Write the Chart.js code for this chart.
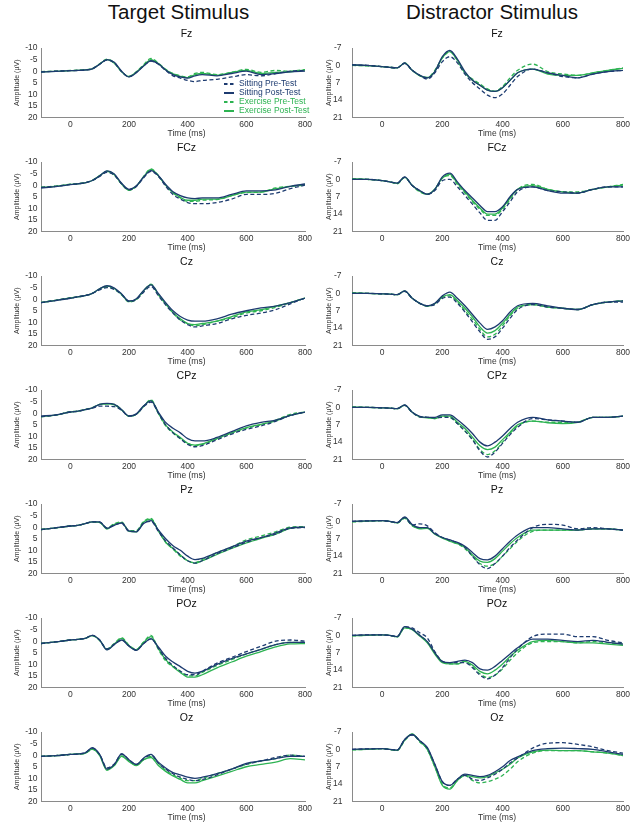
<!DOCTYPE html>
<html>
<head>
<meta charset="utf-8">
<script src="https://cdn.jsdelivr.net/npm/chart.js@4.4.1/dist/chart.umd.min.js"></script>
<style>
  body { margin: 0; background: #fff; width: 639px; height: 836px; position: relative; overflow: hidden;
         font-family: "Liberation Sans", Arial, sans-serif; }
  .head { position: absolute; top: 0; font-size: 20.5px; line-height: 24px; color: #111;
          white-space: nowrap; transform: translateX(-50%); }
  canvas { position: absolute; }
</style>
</head>
<body>
<div class="head" style="left:178.5px">Target Stimulus</div>
<div class="head" style="left:492px">Distractor Stimulus</div>
<script>
const FONT = '"Liberation Sans", Arial, sans-serif';

const electrodes = ['Fz', 'FCz', 'Cz', 'CPz', 'Pz', 'POz', 'Oz'];
const conditions = ['Sitting Pre-Test', 'Sitting Post-Test', 'Exercise Pre-Test', 'Exercise Post-Test'];
const times = [-100, -50, 0, 25, 50, 75, 100, 125, 150, 175, 200, 225, 250, 275, 300, 325, 350, 375, 400, 425, 450, 500, 550, 600, 650, 700, 750, 800];
const timeTicks = [0, 200, 400, 600, 800];
const targetAmpTicks = [-10, -5, 0, 5, 10, 15, 20];
const distractorAmpTicks = [-7, 0, 7, 14, 21];

// amplitude (uV) per electrode row, sampled at `times`
const targetSittingPre = [
  [0.3,0,-0.2,-0.3,-0.5,-1,-3,-4.8,-3.5,0.3,2.4,0.5,-2.3,-4.3,-3,-0.3,2,3,4,4.5,4,3.5,2.5,1.5,2,1,0,-0.3],
  [1,0.5,-0.3,-0.6,-1,-2,-3.8,-5.5,-4.3,-0.5,2,0.6,-3.2,-6,-3.8,0.5,4,6,7.5,8,8,7.5,6,4,4,3.5,1.5,0],
  [1.5,0.5,-0.5,-1,-1.5,-2.5,-4,-5,-4.2,-2,1,0.2,-3,-5.5,-1.5,2.5,6,9,11,12,11.5,10.5,8.5,7,6,4.5,2,-0.5],
  [1.5,0.8,-0.5,-0.8,-1.5,-2.2,-3,-3,-2.8,-1.2,1.3,0.5,-2.8,-4.8,0,5,8.5,11,13.5,14.5,14,11.5,9,7,5.5,3.5,1,-0.5],
  [1,0.3,-0.5,-0.8,-1.5,-2.3,-2.2,0.3,-1,-1.8,1.8,1.8,-1.8,-2.5,1.8,6,9,12,14.5,15.5,14.5,11.5,9,6.5,4.5,3,0.5,0.2],
  [1,0.3,-0.5,-0.8,-1.2,-2.5,-0.5,3.3,1.3,-0.5,2,3.8,1,-1,3,7.5,10.5,13,14.5,14.5,13,9.5,7,4.5,2.2,0,-0.5,0],
  [0.5,0.2,-0.3,-0.5,-1,-3,-0.3,5.5,3.8,-0.5,2,4,1.5,0,3.5,6,8,9.5,10.5,11,10.5,8.5,6,4,2.5,1,0,0.5]
];
const targetSittingPost = [
  [0.4,0.1,-0.2,-0.3,-0.5,-1,-3,-5,-3.8,0,2.5,0.7,-2.2,-4.5,-3.2,-0.5,1.5,2.5,3,2,1.5,2,1,0,1.5,1,0.3,0],
  [1.2,0.6,-0.2,-0.6,-1,-2,-4,-6.2,-4.8,-0.8,1.8,0.3,-3.5,-6.3,-4.2,-0.3,2.8,4.5,5.5,5.8,5.5,5.5,4,2.5,2.5,2,0.5,-0.5],
  [1.5,0.6,-0.4,-1,-1.5,-2.5,-4.5,-5.8,-4.8,-2.2,0.8,-0.2,-3.8,-6.2,-2.5,1.5,5,7.5,9,9.5,9.5,8.5,6.5,5,3.8,3,1.5,-0.5],
  [1.3,0.7,-0.5,-0.9,-1.5,-2.3,-3.8,-4.2,-3.8,-1.5,1.2,0.3,-3.2,-5.3,-0.5,4,6.5,8.5,11,12,12,10.5,8,5.5,4,3,1,-0.5],
  [1.1,0.3,-0.5,-0.8,-1.5,-2.3,-2.3,0.5,-0.8,-1.8,1.6,2,-1.6,-2.8,1.2,5,8,10,12.5,14,13.5,11,8.5,6,4.5,2.5,0.3,0],
  [1,0.3,-0.5,-0.8,-1.2,-2.5,-0.5,3.8,1.5,-0.5,2.2,4,1,-1,2.5,6.5,9,11,13,13.8,13,10,7.5,5.5,3.5,1.5,0.5,0.5],
  [0.5,0.2,-0.3,-0.5,-1,-3.2,-0.3,6,4,-0.5,2,4,1.2,-0.3,3,5.5,7.5,8.5,9.5,10,9.5,8,6,3.5,2.5,1.5,0.5,0.5]
];
const targetExercisePre = [
  [0.2,0,-0.3,-0.4,-0.6,-1.1,-3.2,-5.2,-3.6,0.2,2.3,0.3,-2.8,-5.5,-3.5,-0.8,1,2,2.5,1,0.5,1.5,0.5,-0.8,0.5,-0.3,0,-0.7],
  [0.9,0.4,-0.4,-0.7,-1.1,-2.1,-4,-5.8,-4.4,-0.4,2.2,0.5,-3.8,-7,-4.2,0,3.3,5.5,7,7,6.5,6.2,4.5,3.2,3,1.2,0.5,0],
  [1.4,0.5,-0.5,-1,-1.5,-2.5,-4.3,-5.3,-4.3,-1.8,1.2,0.2,-3.5,-6.5,-2,2,6,9,10.5,11.5,11,9.5,8,6,5,3.5,1.5,-0.5],
  [1.6,0.8,-0.6,-0.9,-1.6,-2.4,-3.8,-4,-3.8,-1.5,1.4,0.5,-3,-5.8,0,5.5,8.5,11,13,14,13.5,11,8.5,6.5,5,3,0.5,-0.5],
  [1,0.3,-0.5,-0.8,-1.5,-2.2,-2,0.3,-1.5,-2.3,1.5,1.5,-2.5,-3.8,1.5,6.5,9.5,12.5,14.5,15.3,14,11,8.5,5.5,3.8,2,0,-0.3],
  [1,0.3,-0.5,-0.8,-1.2,-2.3,-0.3,3.3,1,-1.5,1.8,3.5,0.3,-2.5,3.5,8.5,11,13,15,15,13.5,10.5,8,5.5,3.5,1.5,0.5,0.5],
  [0.5,0.2,-0.3,-0.5,-0.8,-2.5,0,6,4.3,0.3,2.5,4.3,2,0.5,3.5,6.5,8.5,10,11,11,10,8,6,4,2.5,1.5,0,0.5]
];
const targetExercisePost = [
  [0.3,0.1,-0.2,-0.3,-0.6,-1,-3.1,-5,-3.4,0.3,2.3,0.4,-2.5,-5,-3.3,-0.6,1.2,2.2,2.8,1.5,1,1.7,0.5,-0.3,1,0.5,0.3,-0.5],
  [1,0.5,-0.3,-0.6,-1,-2,-4.1,-6,-4.5,-0.5,2.1,0.4,-3.6,-6.8,-4,0,3.2,5.3,6.5,6.5,6,6,4.5,3,3,1.5,0.5,-0.3],
  [1.5,0.5,-0.5,-1,-1.5,-2.5,-4.5,-5.6,-4.6,-2,1,0,-3.6,-6.3,-2,2,5.8,8.5,10.5,11,10.5,9.5,7.5,5.5,4.5,3,1.5,-0.5],
  [1.5,0.8,-0.5,-0.8,-1.5,-2.3,-3.8,-4,-3.6,-1.4,1.3,0.5,-3,-5.5,0,5.2,8.2,10.5,13,13.8,13.3,11,8.5,6.2,4.8,3.3,1,-0.5],
  [1,0.3,-0.5,-0.8,-1.5,-2.3,-2.1,0.8,-1.2,-2,1.8,2,-2.2,-3.5,1.5,6.5,9.3,12,14.5,15.5,14.5,11.8,9.2,6.8,4.8,3,0.5,0],
  [1,0.3,-0.5,-0.8,-1.2,-2.4,-0.4,3.6,1.2,-1.2,2,3.8,0.5,-2,3.2,8,11,13.5,15.5,15.5,14.5,11.5,9,6.5,4.5,2.5,1.2,1],
  [0.5,0.2,-0.3,-0.5,-0.8,-2.6,0.2,6.5,4.5,0.5,2.8,4.5,2,1,4.5,7,9,10.5,12,12,11,9,7,5,4,3,1.5,2]
];

const distractorSittingPre = [
  [-0.2,0,0.5,0.8,1,-1,2,4,5.5,3,-1.5,-3.5,-1,3.5,7,9.5,12,13,11.5,8,4.5,1.5,3,4.5,5,3.5,2.5,2],
  [0,0,0.5,1,1.5,-0.8,2.5,4.5,6,4.5,0.5,0,3,6.5,10,13.5,16.5,16.5,13,9,5,3,4.5,5,5.5,4,3,3],
  [0,0,0.2,0.3,0.5,-0.8,2,4,5,4.5,2,1.5,4,7.5,11.5,15.5,18.5,17.5,14,10,6.5,4.5,5.5,6,6.5,4.5,3.5,3.5],
  [0,0,0.2,0.3,0.5,-0.8,2,3.8,4,4.2,4,4,6.5,9.5,13,17.5,20,18,14.5,11,8,4.5,5,5.5,6,4,4,3.5],
  [0,-0.2,-0.3,0,0.5,-1.5,1.5,1,1.8,4.5,6.5,7.5,8.5,10.5,14,17.5,19,17,14,10.5,7.5,2.5,1.2,1.5,3,2.5,3,3.5],
  [0,-0.2,-0.2,0,0.5,-3.5,-3,-1,1,6.5,10.5,11,11,11,13,16,17.5,16,13,9,5.5,0.5,-0.5,-0.5,0.5,0.5,2,3],
  [0,-0.2,-0.3,0,0.3,-4,-5.8,-3.5,-0.5,6,13,14.5,12,10.5,12,12.5,11.5,10,8,5.5,3.5,-0.5,-2.5,-2.7,-2,-1,0.5,1.5]
];
const distractorSittingPost = [
  [-0.2,0,0.5,0.8,1,-0.8,2,4,5,2.5,-3.5,-6,-2.5,2.5,6,8,10,10.5,9,6,3,1.5,3,4,5,3.5,2.5,2],
  [0,0,0.5,1,1.5,-1,2.5,4.5,6,4,-1,-2.5,1,4.5,7.5,10.5,13,13,11,7,4,3,4.5,5.5,5.5,4,3,3],
  [0,0,0.2,0.3,0.5,-1,2,4,5,4,1,-0.5,2,5,8.5,12,14.5,13.5,11,7.5,5,4,5,6,6.5,4.5,3.5,3],
  [0,0,0.2,0.3,0.5,-1,2,3.6,4,4,3,3,5,7.5,10.5,14,15.5,14,11.5,8.5,6,4,5,5.5,6,4,4,3.5],
  [0,-0.2,-0.3,0,0.5,-1.8,1.3,2.5,2.5,5,6.5,7.5,8.5,10,12.5,15,15.5,14,11,8,5.5,2.5,2.5,3,3.5,3,3,3.5],
  [0,-0.2,-0.2,0,0.5,-3.5,-2.5,0,2.5,7,10.5,11,10.5,10,11,13.5,14,12.5,10,7.5,5,1.5,1.5,2,2.5,2,2.8,3.5],
  [0,-0.2,-0.3,0,0.3,-4,-6,-3.5,-0.8,6,13,14.5,12,10,10.5,11,10.5,9,7,4.5,3,0.5,-0.3,-0.5,-0.3,0,1,2]
];
const distractorExercisePre = [
  [0,0.2,0.5,0.8,1,-0.8,2,4,4.8,2,-3,-5.5,-2,3,5.5,7.5,9.5,10.5,8.5,5,2,-0.5,2.5,3.5,4,3,2,1],
  [-0.3,0,0.5,1,1.8,-0.8,2.5,5,6,4,-0.5,-1.5,2,5.5,9,12,14.5,14.5,12,8,4,2,4,5,5,4,3,2],
  [-0.3,0,0.2,0.3,0.6,-0.8,2,4,5,4.2,1.5,1,3.5,7,10.5,14.5,17.5,16.5,13,9,6,4.5,5.5,6,6.5,4.5,3.5,3],
  [-0.2,0,0.2,0.3,0.6,-0.8,2,3.8,4,4.5,3.5,4,6.5,9.5,13,17,19,17.5,14,10.5,7.5,5.5,6,6,6,4,4,3.5],
  [0.2,0,-0.3,0,0.7,-1.2,1.8,2.8,2.8,5,6.5,8,9,11,14,17,18,17,14,11,8,4,3.5,3.5,3.5,3,3,3.5],
  [0.2,0,-0.2,0,0.7,-3,-2.5,0,2.5,7,10.5,11.5,11.5,10.5,12.5,15.5,17,16,13.5,10,7,3,2.5,2.5,3,2.5,3,3.5],
  [0.2,0,-0.3,0,0.5,-3.5,-6,-3,0,7,14,15.5,12.5,10.5,12.5,13.5,13,12,10.5,8,5,1.5,0.5,0.5,0.5,1,1.5,2.5]
];
const distractorExercisePost = [
  [-0.1,0.1,0.5,0.8,1,-1,2,4.2,5,2.5,-3,-5.5,-2,3,6,8,10,10.5,9,6,3,1.5,3.5,4,4,3,2,1.2],
  [-0.2,0,0.5,1,1.6,-0.8,2.5,4.8,6,4,-0.5,-2,1.5,5,8.5,11.5,14,14,11.5,7.5,4,2.5,4,5,5.5,4,3,2.3],
  [-0.2,0,0.2,0.3,0.5,-1,2,4,5.2,4.2,1.5,0.5,3,6,9.5,13.5,16,15,12,8.5,5.5,4.5,5.5,6,6.5,4.5,3.5,3],
  [-0.1,0,0.2,0.3,0.5,-0.9,2,3.8,4.2,4.5,3.5,3.5,6,8.5,12,15.5,17,16,13,10,7,5.5,6.2,6.5,6,4,4,3.5],
  [0.1,-0.1,-0.3,0,0.6,-1.5,1.6,3,2.8,5.2,6.8,8,9,10.5,13.5,16,16.5,15,12,9,6.5,3.5,3.5,3.5,3.5,3,3,3.5],
  [0.1,0,-0.2,0,0.6,-3,-2.3,0.3,3,7.5,11,11.5,11.5,10.5,12,14.5,15.5,14,11.5,8.5,6,2.5,2,2.5,3,3,3.5,4],
  [0.1,0,-0.3,0,0.4,-3.8,-6.2,-3.3,0,7,14.5,16,12.5,10.5,11,11.5,11,9.5,8,6,3.5,1,0.3,0.5,0.5,1,1.5,2.5]
];

const lineColors = ['#1d3b70', '#1d3b70', '#2db352', '#2db352'];
const lineDashes = [[4, 2.5], [], [4, 2.5], []];

// legend drawn inside the plot, bottom right (only on the first panel)
const cornerLegend = {
  id: 'cornerLegend',
  afterDatasetsDraw(chart, args, opts) {
    if (!opts.show) return;
    const { ctx, chartArea } = chart;
    ctx.save();
    ctx.font = '8.5px ' + FONT;
    ctx.textBaseline = 'middle';
    const n = chart.data.datasets.length;
    chart.data.datasets.forEach((ds, k) => {
      const y = chartArea.bottom - 6.5 - (n - 1 - k) * 9;
      const x = chartArea.right - 81;
      ctx.strokeStyle = ds.borderColor;
      ctx.lineWidth = 2;
      ctx.setLineDash(ds.borderDash.length ? [3.5, 2.5] : []);
      ctx.beginPath();
      ctx.moveTo(x, y);
      ctx.lineTo(x + 10, y);
      ctx.stroke();
      ctx.setLineDash([]);
      ctx.fillStyle = ds.borderColor;
      ctx.fillText(ds.label, x + 15, y);
    });
    ctx.restore();
  }
};

// electrode name above the plot and the time label below, both sit a bit right of centre
const panelText = {
  id: 'panelText',
  afterDraw(chart, args, opts) {
    const { ctx, chartArea } = chart;
    const cx = (chartArea.left + chartArea.right) / 2 + opts.shift;
    ctx.save();
    ctx.textAlign = 'center';
    ctx.textBaseline = 'middle';
    ctx.fillStyle = '#111';
    ctx.font = '10.5px ' + FONT;
    ctx.fillText(opts.title, cx, chartArea.top - 13.5);
    ctx.fillStyle = '#333';
    ctx.font = '8.5px ' + FONT;
    ctx.fillText(opts.xLabel, cx, chartArea.bottom + 15.8);
    ctx.restore();
  }
};

function makePanel(col, row, series, ampTicks) {
  const cv = document.createElement('canvas');
  cv.width = col === 0 ? 320 : 319;
  cv.height = 114;
  cv.style.left = (col === 0 ? 0 : 320) + 'px';
  cv.style.top = (26 + 114 * row) + 'px';
  document.body.appendChild(cv);

  const datasets = series.map((s, k) => ({
    label: conditions[k],
    data: times.map((t, i) => ({ x: t, y: s[row][i] })),
    borderColor: lineColors[k],
    borderDash: lineDashes[k],
    borderWidth: 1.3,
    pointRadius: 0,
    cubicInterpolationMode: 'monotone',
    fill: false
  }));

  new Chart(cv, {
    type: 'line',
    data: { datasets },
    plugins: [cornerLegend, panelText],
    options: {
      responsive: false,
      animation: false,
      devicePixelRatio: 1,
      layout: { padding: { left: 0, right: col === 0 ? 15 : 16, top: 22, bottom: 0 } },
      plugins: {
        legend: { display: false },
        tooltip: { enabled: false },
        title: { display: false },
        cornerLegend: { show: col === 0 && row === 0 },
        panelText: { title: electrodes[row], xLabel: 'Time (ms)', shift: col === 0 ? 13.5 : 9.5 }
      },
      scales: {
        x: {
          type: 'linear', min: -100, max: 800,
          grid: { display: false, drawTicks: false },
          border: { color: '#8a8a8a' },
          ticks: { color: '#333', font: { size: 8.5, family: FONT }, padding: 2.5,
                   maxRotation: 0, autoSkip: false },
          afterBuildTicks: s => { s.ticks = timeTicks.map(v => ({ value: v })); },
          afterFit: s => { s.height = 22.5; }
        },
        y: {
          type: 'linear', reverse: true,
          min: ampTicks[0], max: ampTicks[ampTicks.length - 1],
          grid: { display: false, drawTicks: false },
          border: { color: '#8a8a8a' },
          ticks: { color: '#333', font: { size: 8.5, family: FONT }, autoSkip: false,
                   padding: col === 0 ? 3.5 : 9.5, crossAlign: col === 0 ? 'near' : 'center' },
          afterBuildTicks: s => { s.ticks = ampTicks.map(v => ({ value: v })); },
          afterFit: s => { s.width = col === 0 ? 41 : 32; },
          title: { display: true, text: 'Amplitude (µV)', color: '#333',
                   font: { size: 7, family: FONT }, padding: { top: col === 0 ? 12.8 : 5.3, bottom: 0 } }
        }
      }
    }
  });
}

const target = [targetSittingPre, targetSittingPost, targetExercisePre, targetExercisePost];
const distractor = [distractorSittingPre, distractorSittingPost, distractorExercisePre, distractorExercisePost];
electrodes.forEach((e, row) => {
  makePanel(0, row, target, targetAmpTicks);
  makePanel(1, row, distractor, distractorAmpTicks);
});
</script>
</body>
</html>
